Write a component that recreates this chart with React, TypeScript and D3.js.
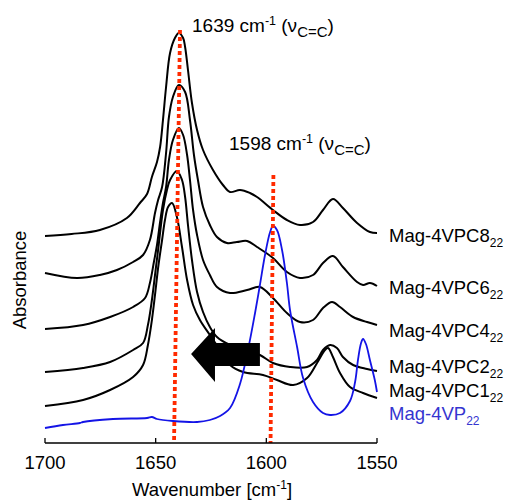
import React from 'react';
import * as d3 from 'd3';

// wavenumber (cm-1) vs absorbance (a.u., stacked offsets)
const xTicks = [1700, 1650, 1600, 1550];

const c8 = [
  [1700, 207], [1688, 209], [1675.2, 213], [1663, 225], [1657.1, 240], [1653.9, 249],
  [1651.7, 266], [1649.4, 281], [1648, 296], [1646.7, 323], [1645.3, 356], [1643.5, 390],
  [1641.3, 405], [1639.5, 410], [1637.6, 405], [1636.7, 396], [1635.4, 373], [1633.6, 340],
  [1631.3, 313], [1628.6, 293], [1624.1, 273], [1619.6, 258], [1616.4, 251], [1611.9, 253],
  [1607.4, 250], [1604.2, 246], [1597, 233], [1590.7, 223], [1584.8, 218], [1578.9, 221],
  [1574.4, 233], [1569.9, 244], [1565.4, 235], [1559, 220], [1553.2, 211], [1550, 210],
];

const c6 = [
  [1700, 170], [1685.5, 165], [1675.2, 168], [1667.5, 173], [1660.2, 181], [1655.7, 188],
  [1652.6, 203], [1650.3, 230], [1648.9, 243], [1647.1, 256], [1645.3, 290], [1644, 326],
  [1642.2, 346], [1639.5, 358], [1636.7, 351], [1634.5, 323], [1632.7, 288], [1630.9, 263],
  [1628.6, 236], [1625.5, 218], [1622.3, 206], [1617.8, 200], [1613.3, 201], [1608.7, 202],
  [1604.2, 196], [1597, 185], [1590.7, 171], [1584.8, 165], [1578.9, 168], [1574.4, 180],
  [1569.9, 187], [1565.4, 176], [1559, 161], [1556.3, 158], [1553.2, 160], [1550, 157],
];

const c4 = [
  [1700, 114], [1682.8, 118], [1670.6, 126], [1660.2, 136], [1654.8, 145], [1652.6, 160],
  [1650.8, 181], [1649.4, 198], [1648, 221], [1646.7, 240], [1645.3, 256], [1644, 283],
  [1642.2, 303], [1639.5, 315], [1637.6, 308], [1635.8, 288], [1634.5, 263], [1633.1, 233],
  [1631.3, 208], [1628.6, 183], [1625.5, 168], [1622.3, 156], [1616.4, 150], [1608.7, 153],
  [1602.9, 156], [1597, 145], [1590.7, 130], [1584.8, 121], [1578.9, 123], [1574.4, 135],
  [1570.3, 141], [1566.7, 136], [1560.8, 126], [1554.5, 121], [1550, 118],
];

const c2 = [
  [1700, 71], [1682.8, 75], [1670.6, 81], [1660.2, 93], [1655.7, 100], [1653.5, 118],
  [1651.7, 143], [1650.3, 168], [1648.9, 193], [1646.7, 233], [1644.9, 253], [1643.5, 263],
  [1640.4, 272], [1638.1, 263], [1636.7, 246], [1635.4, 218], [1633.6, 183], [1631.3, 151],
  [1628.6, 131], [1625.5, 116], [1622.3, 106], [1616.4, 98], [1609.6, 93], [1602.9, 88],
  [1597, 80], [1589.3, 76], [1581.6, 76], [1577.1, 83], [1574.4, 93], [1571.2, 98],
  [1568.1, 95], [1565.4, 86], [1560.8, 78], [1554.5, 74], [1550, 72],
];

const c1 = [
  [1700, 37], [1682.8, 43], [1670.6, 53], [1660.2, 66], [1655.7, 78], [1653.5, 98],
  [1651.7, 123], [1650.3, 148], [1648.9, 175], [1647.1, 203], [1645.8, 223], [1644.4, 236],
  [1642.6, 240], [1640.4, 226], [1638.1, 196], [1635.8, 163], [1633.1, 138], [1630, 123],
  [1625.5, 108], [1620.9, 93], [1616.4, 78], [1610.5, 71], [1601.5, 68], [1595.2, 63],
  [1587.9, 58], [1581.6, 65], [1577.1, 80], [1573.5, 93], [1572.1, 95], [1569.9, 86],
  [1566.7, 70], [1562.2, 56], [1556.3, 50], [1550, 45],
];

const vp = [
  [1700, 15], [1691.9, 18], [1684.2, 20], [1682.8, 21], [1669.3, 24], [1653.9, 25],
  [1651.7, 26], [1649.4, 24], [1642.2, 22], [1631.3, 21], [1625.5, 23], [1620.9, 27],
  [1616.4, 35], [1611.9, 59], [1608.3, 93], [1605.1, 130], [1602.9, 158], [1600.6, 188],
  [1598.3, 211], [1597, 217], [1595.2, 213], [1592.9, 193], [1590.7, 160], [1589.3, 133],
  [1586.1, 96], [1583.4, 65], [1578.9, 41], [1574.4, 30], [1571.2, 28], [1566.7, 30],
  [1562.2, 42], [1559.9, 61], [1558.6, 83], [1557.2, 100], [1556.3, 104], [1555, 99],
  [1553.2, 83], [1551, 63], [1550, 51],
];

const seriesNames = ['Mag-4VPC8', 'Mag-4VPC6', 'Mag-4VPC4', 'Mag-4VPC2', 'Mag-4VPC1', 'Mag-4VP'];
const seriesData = [c8, c6, c4, c2, c1, vp];

// red guide lines: [top wavenumber, top absorbance], [bottom wavenumber, 0]
const guide1639 = [[1639, 413], [1641.7, 0]];
const guide1598 = [[1596.8, 268], [1598.1, 0]];

// block arrow in data units (tip -> tail)
const arrowTip = [1634, 89];
const arrowHead = [1623.2, 115, 61];
const arrowShaft = [1602.9, 100, 77];

const W = 506;
const H = 501;
const font = '"Liberation Sans", Arial, Helvetica, sans-serif';
const labelBaselines = [242, 294, 337, 373, 397, 420];

function PeakLabel({ x, y, value }: { x: number; y: number; value: number }) {
  return (
    <text x={x} y={y} fontSize={19}>
      {value} cm<tspan dy={-7} fontSize={12.5}>-1</tspan>
      <tspan dy={7}> (ν</tspan>
      <tspan dy={5} fontSize={15}>C=C</tspan>
      <tspan dy={-5}>)</tspan>
    </text>
  );
}

export default function App() {
  const x = d3.scaleLinear().domain([1700, 1550]).range([45, 377]);
  const y = d3.scaleLinear().domain([0, 420]).range([443, 23]);

  const line = d3
    .line<number[]>()
    .x(d => x(d[0]))
    .y(d => y(d[1]))
    .curve(d3.curveCatmullRom.alpha(0.5));

  const arrowPts: [number, number][] = [
    [x(arrowTip[0]), y(arrowTip[1])],
    [x(arrowHead[0]), y(arrowHead[1])],
    [x(arrowHead[0]), y(arrowShaft[1])],
    [x(arrowShaft[0]), y(arrowShaft[1])],
    [x(arrowShaft[0]), y(arrowShaft[2])],
    [x(arrowHead[0]), y(arrowShaft[2])],
    [x(arrowHead[0]), y(arrowHead[2])],
  ];

  const axisY = y(0);

  return (
    <svg
      width={W}
      height={H}
      style={{ position: 'absolute', left: 0, top: 0, background: '#fff' }}
      fontFamily={font}
    >
      {/* black spectra */}
      {seriesData.slice(0, 5).map((d, i) => (
        <path key={i} d={line(d) || ''} fill="none" stroke="#000" strokeWidth={2} />
      ))}
      {/* blue spectrum */}
      <path d={line(vp) || ''} fill="none" stroke="#1414e6" strokeWidth={1.8} />

      {/* red dotted guides */}
      {[guide1639, guide1598].map((g, i) => (
        <line
          key={i}
          x1={x(g[0][0])}
          y1={y(g[0][1])}
          x2={x(g[1][0])}
          y2={y(g[1][1])}
          stroke="#ff2a00"
          strokeWidth={3.8}
          strokeDasharray="4 3"
        />
      ))}

      {/* arrow */}
      <polygon points={arrowPts.map(p => p.join(',')).join(' ')} fill="#000" />

      {/* x axis */}
      <line x1={x(1700)} x2={x(1550)} y1={axisY} y2={axisY} stroke="#000" strokeWidth={1.3} />
      {xTicks.map(t => (
        <g key={t}>
          <line x1={x(t)} x2={x(t)} y1={axisY} y2={axisY - 5} stroke="#000" strokeWidth={1.3} />
          <text x={x(t)} y={469} textAnchor="middle" fontSize={18.5}>
            {t}
          </text>
        </g>
      ))}
      <text x={212} y={496} textAnchor="middle" fontSize={18.5}>
        Wavenumber [cm<tspan dy={-7} fontSize={12}>-1</tspan>
        <tspan dy={7}>]</tspan>
      </text>
      <text transform="translate(26,280) rotate(-90)" textAnchor="middle" fontSize={18.5}>
        Absorbance
      </text>

      {/* peak annotations */}
      <PeakLabel x={192} y={32} value={1639} />
      <PeakLabel x={229} y={150} value={1598} />

      {/* series labels */}
      {seriesNames.map((n, i) => (
        <text
          key={n}
          x={x(1550) + 12}
          y={labelBaselines[i]}
          fontSize={18.5}
          fill={i === 5 ? '#3535d0' : '#000'}
        >
          {n}
          <tspan dy={5} fontSize={12}>22</tspan>
        </text>
      ))}
    </svg>
  );
}
